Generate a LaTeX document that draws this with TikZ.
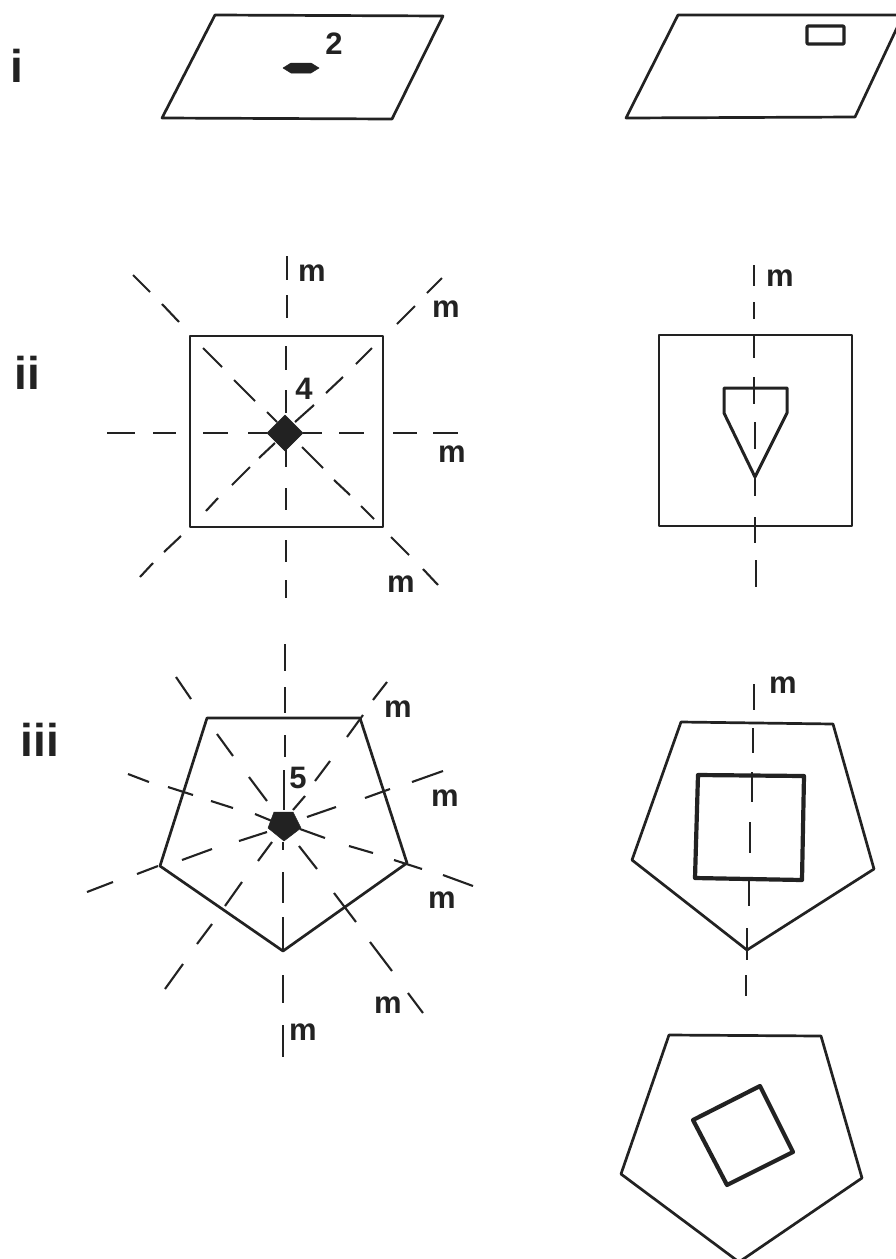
\documentclass[tikz,border=0pt]{standalone}
\usepackage{fontspec}
\setmainfont{Liberation Sans}[BoldFont={Liberation Sans Bold}]
\definecolor{ink}{HTML}{222222}
\tikzset{
  outline/.style={draw=ink,line width=2.7pt,line join=round},
  heavy/.style={draw=ink,line width=4.2pt,line join=round},
  mirror/.style={draw=ink,line width=2.1pt},
  solidmark/.style={fill=ink,draw=ink,line width=0.5pt,line join=round},
  lab/.style={inner sep=0pt,text=ink,font=\fontsize{31}{31}\selectfont\bfseries},
  rowlab/.style={inner sep=0pt,text=ink,font=\fontsize{46}{46}\selectfont\bfseries}
}
\newcommand{\segs}[1]{\foreach \a/\b/\c/\d in {#1}{\draw[mirror] (\a,\b) -- (\c,\d);}}
\begin{document}
\begin{tikzpicture}[x=1pt,y=-1pt]
\useasboundingbox (0,0) rectangle (896,1259);
\begin{scope}
\clip (0,0) rectangle (896,1259);
% row i
\node[rowlab] (ri) at (17,66) {i};
\draw[outline] (215,15) -- (443,16) -- (392,119) -- (162,118) -- cycle;
\fill[solidmark] (283,68) -- (291,63) -- (311,63) -- (319,68) -- (311,73) -- (291,73) -- cycle;
\node[lab] (n2) at (334,44) {2};
\draw[outline] (678,15) -- (903,15) -- (855,117) -- (626,118) -- cycle;
\draw[outline,line width=3.2pt,rounded corners=1pt] (807,26) rectangle (844,44);
% row ii left
\node[rowlab] (rii) at (27,373) {ii};
\draw[outline] (190,336) rectangle (383,527);
\segs{287/256/287/280, 287/295/287/318, 286/346/286/370, 286/390/286/413, 286/450/286/467, 286/488/286/510, 286/540/286/562, 286/580/286/598,
107/433/135/433, 153/433/176/433, 203/433/228/433, 248/433/267/433, 303/433/322/433, 339/433/364/433, 393/433/417/433, 433/433/458/433,
442/278/427/293, 415/306/397/324, 372/348/356/364, 343/377/326/393, 314/405/295/422, 275/443/259/458, 250/467/232/485, 218/498/206/511, 181/536/164/552, 153/563/140/577,
133/275/150/292, 162/304/179/322, 203/348/222/367, 234/380/255/401, 267/412/277/422, 302/447/323/468, 334/480/350/495, 361/506/374/519, 391/537/409/555, 423/569/438/585}
\fill[solidmark] (285,415) -- (303,433) -- (285,451) -- (267,433) -- cycle;
\node[lab] at (312,273) {m};
\node[lab] at (446,309) {m};
\node[lab] at (452,454) {m};
\node[lab] at (401,584) {m};
\node[lab] at (304,389) {4};
% row ii right
\draw[outline] (659,335) rectangle (852,526);
\draw[outline,line width=3pt] (724,388) -- (787,388) -- (787,413) -- (755,477) -- (724,413) -- cycle;
\segs{754/265/754/286, 754/302/754/319, 754/336/754/358, 754/377/754/404, 755/422/755/449, 755/477/755/496, 755/517/755/543, 756/560/756/587}
\node[lab] at (780,278) {m};
% row iii left
\node[rowlab] (riii) at (40,740) {iii};
\draw[outline] (207,718) -- (360,718) -- (407,863) -- (283,951) -- (160,866) -- cycle;
\segs{285/644/285/671, 285/687/285/713, 285/735/285/757, 284/770/284/810, 283/842/283/850, 283/872/283/903, 283/917/283/950, 283/975/283/1003, 283/1025/283/1057,
387/682/373/700, 363/715/347/737, 330/761/315/781, 305/796/293/810,
176/677/191/699, 217/734/233/756, 249/777/267/801,
443/771/412/782, 390/789/365/798, 336/807/307/817,
128/774/149/782, 168/787/193/795, 211/801/233/808, 255/814/272/821,
300/829/325/838, 349/846/373/853, 394/860/422/869, 443/875/473/886,
267/832/239/841, 212/849/182/860, 158/866/137/874, 113/882/87/892,
299/846/317/869, 334/893/356/922, 370/942/392/971, 408/993/423/1013,
272/842/258/861, 242/882/225/906, 212/924/197/944, 183/964/165/989}
\fill[solidmark] (274,812) -- (293,812) -- (301,828) -- (284,841) -- (268,828) -- cycle;
\node[lab] at (398,709) {m};
\node[lab] at (445,798) {m};
\node[lab] at (442,900) {m};
\node[lab] at (388,1005) {m};
\node[lab] at (303,1032) {m};
\node[lab] at (298,778) {5};
% row iii right
\draw[outline] (681,722) -- (833,724) -- (874,869) -- (747,950) -- (632,860) -- cycle;
\draw[heavy] (698,775) -- (804,776) -- (802,880) -- (695,878) -- cycle;
\segs{754/684/754/710, 753/728/753/753, 752/772/752/802, 750/822/750/853, 749/877/749/906, 747/928/747/960, 746/975/746/996}
\node[lab] at (783,685) {m};
% bottom right
\draw[outline] (669,1035) -- (821,1036) -- (862,1178) -- (739,1262) -- (621,1174) -- cycle;
\draw[heavy] (760,1086) -- (793,1152) -- (727,1185) -- (693,1120) -- cycle;
\end{scope}
\end{tikzpicture}
\end{document}
